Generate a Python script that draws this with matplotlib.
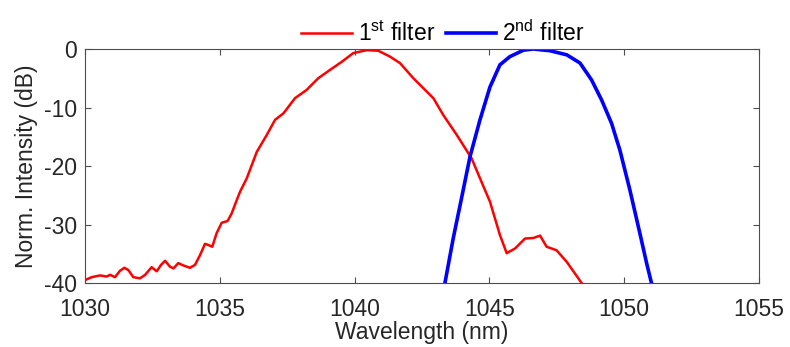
import matplotlib
matplotlib.use("Agg")
import matplotlib.pyplot as plt

plt.rcParams['font.family'] = ['Liberation Sans', 'DejaVu Sans']
plt.rcParams['axes.unicode_minus'] = False
plt.rcParams['mathtext.fontset'] = 'custom'
plt.rcParams['mathtext.rm'] = 'Liberation Sans'

# 1st filter (red)
wl1 = [1030.0, 1030.25, 1030.56, 1030.8, 1030.93, 1031.11, 1031.3, 1031.46, 1031.61, 1031.79,
       1032.04, 1032.23, 1032.47, 1032.66, 1032.82, 1032.97, 1033.15, 1033.28, 1033.46, 1033.65,
       1033.89, 1034.08, 1034.27, 1034.45, 1034.57, 1034.72, 1034.88, 1035.07, 1035.29, 1035.44,
       1035.63, 1035.75, 1036.0, 1036.37, 1036.74, 1037.05, 1037.36, 1037.79, 1038.22, 1038.65,
       1039.08, 1039.52, 1039.95, 1040.45, 1040.88, 1041.31, 1041.68, 1042.18, 1042.55, 1042.92,
       1043.29, 1043.79, 1044.34, 1044.65, 1045.02, 1045.39, 1045.64, 1045.95, 1046.32, 1046.63,
       1046.88, 1047.12, 1047.49, 1047.87, 1048.42, 1048.5]
db1 = [-39.5, -39.0, -38.7, -38.9, -38.6, -39.0, -37.9, -37.4, -37.8, -39.0,
       -39.2, -38.6, -37.3, -38.0, -36.9, -36.2, -37.2, -37.5, -36.6, -37.0,
       -37.4, -36.9, -35.2, -33.3, -33.5, -33.8, -31.5, -29.7, -29.4, -28.1,
       -25.8, -24.4, -22.1, -17.6, -14.7, -12.1, -11.0, -8.4, -7.0, -5.0,
       -3.6, -2.2, -0.7, -0.2, -0.3, -1.3, -2.4, -5.0, -6.7, -8.4,
       -11.3, -14.7, -18.7, -22.1, -26.1, -31.8, -34.9, -34.1, -32.4, -32.3,
       -31.9, -33.8, -34.4, -36.4, -40.0, -40.8]

# 2nd filter (blue)
wl2 = [1043.3, 1043.35, 1043.66, 1043.97, 1044.28, 1044.65, 1045.02, 1045.39, 1045.76, 1046.26,
       1046.63, 1047.25, 1047.87, 1048.36, 1048.79, 1049.16, 1049.53, 1049.84, 1050.21, 1050.58,
       1050.83, 1051.01, 1051.1]
db2 = [-41.0, -40.0, -32.3, -25.4, -18.4, -12.1, -6.5, -2.7, -1.3, -0.2,
       0.0, -0.3, -1.0, -2.4, -5.3, -8.7, -12.7, -17.3, -24.1, -31.5,
       -36.6, -40.0, -41.0]

xticks = [1030, 1035, 1040, 1045, 1050, 1055]
yticks = [-40, -30, -20, -10, 0]

fs = 16.5
fig = plt.figure(figsize=(7.9, 3.47), dpi=100)
ax = fig.add_axes([0.1076, 0.1844, 0.8532, 0.6744])

l1, = ax.plot(wl1, db1, color='#ff0000', lw=1.8, label='1$^{\\mathrm{st}}$ filter')
l2, = ax.plot(wl2, db2, color='#0000ff', lw=2.6, label='2$^{\\mathrm{nd}}$ filter')

ax.set_xlim(1030, 1055)
ax.set_ylim(-40, 0)
ax.set_xticks(xticks)
ax.set_yticks(yticks)
ax.tick_params(direction='in', top=True, right=True, length=4, width=0.8,
               colors='#4d4d4d', labelcolor='#262626', labelsize=fs)
ax.tick_params(axis='x', pad=11)
ax.tick_params(axis='y', pad=6)
for s in ax.spines.values():
    s.set_color('#4d4d4d')
    s.set_linewidth(0.8)
ax.set_xlabel('Wavelength (nm)', fontsize=fs, color='#262626', labelpad=0)
ax.set_ylabel('Norm. Intensity (dB)', fontsize=fs, color='#262626', labelpad=4)

fig.legend(handles=[l1, l2], loc='center', bbox_to_anchor=(0.561, 0.905), ncol=2,
           frameon=False, fontsize=fs, handlelength=2.2, handletextpad=0.26,
           columnspacing=0.48, borderaxespad=0, borderpad=0)

fig.savefig('out.png', dpi=100)
